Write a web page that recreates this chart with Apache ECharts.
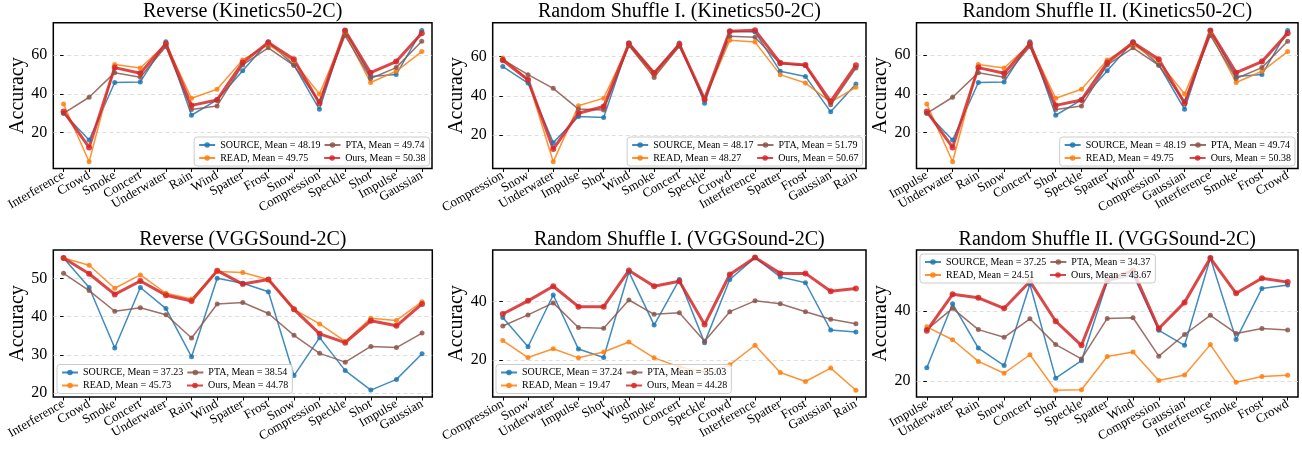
<!DOCTYPE html>
<html><head><meta charset="utf-8">
<script src="https://cdn.jsdelivr.net/npm/echarts@6/dist/echarts.min.js"></script>
<style>html,body{margin:0;padding:0;background:#fff}#c{width:1302px;height:451px}</style>
</head><body><div id="c"></div>
<script>
// ---------------- data ----------------
const methods = ['SOURCE', 'READ', 'PTA', 'Ours'];

const catsReverse  = ['Interference','Crowd','Smoke','Concert','Underwater','Rain','Wind','Spatter','Frost','Snow','Compression','Speckle','Shot','Impulse','Gaussian'];
const catsShuffle1 = ['Compression','Snow','Underwater','Impulse','Shot','Wind','Smoke','Concert','Speckle','Crowd','Interference','Spatter','Frost','Gaussian','Rain'];
const catsShuffle2 = ['Impulse','Underwater','Rain','Snow','Concert','Shot','Speckle','Spatter','Wind','Compression','Gaussian','Interference','Smoke','Frost','Crowd'];

const titles = ['Reverse (Kinetics50-2C)', 'Random Shuffle I. (Kinetics50-2C)', 'Random Shuffle II. (Kinetics50-2C)',
                'Reverse (VGGSound-2C)', 'Random Shuffle I. (VGGSound-2C)', 'Random Shuffle II. (VGGSound-2C)'];

const ticksKin    = [20, 40, 60];
const ticksVggRev = [20, 30, 40, 50];
const ticksVgg    = [20, 40];

// Kinetics50-2C, Reverse (the Random Shuffle II. panel shows the same values)
const kinRevSource = [30.0,16.2,45.9,46.2,66.9,29.0,36.9,52.0,66.9,55.0,32.1,72.8,49.0,50.0,72.8];
const kinRevRead   = [34.8, 5.0,55.2,53.4,65.7,37.8,42.4,57.6,65.5,56.7,40.0,71.4,45.9,51.7,61.9];
const kinRevPta    = [30.0,38.3,51.0,48.6,64.5,32.0,33.8,55.0,63.8,54.8,36.0,70.2,48.0,53.6,67.2];
const kinRevOurs   = [31.0,12.4,53.6,50.7,65.9,34.1,36.9,56.2,66.6,57.9,35.2,72.8,51.0,56.7,71.4];
const meansKinRev  = [48.19, 49.75, 49.74, 50.38];

// Kinetics50-2C, Random Shuffle I.
const kinRs1Source = [54.9,46.5,16.1,29.4,28.9,67.0,51.3,67.0,36.2,73.0,72.6,52.5,49.9,31.8,46.0];
const kinRs1Read   = [59.3,48.2, 6.3,34.9,38.8,66.0,50.3,66.2,38.0,68.4,67.4,50.8,46.5,36.8,44.3];
const kinRs1Pta    = [58.5,50.8,43.8,33.2,32.8,65.6,49.4,65.3,38.0,70.4,69.9,56.4,55.4,35.4,54.2];
const kinRs1Ours   = [58.1,48.2,12.8,31.1,34.5,66.7,51.6,66.2,38.3,73.0,73.5,56.8,55.7,37.1,55.6];
const meansKinRs1  = [48.17, 48.27, 51.79, 50.67];

// Kinetics50-2C, Random Shuffle II.
const kinRs2Source = [30.0,16.2,45.9,46.2,66.9,29.0,36.9,52.0,66.9,55.0,32.1,72.8,49.0,50.0,72.8];
const kinRs2Read   = [34.8, 5.0,55.2,53.4,65.7,37.8,42.4,57.6,65.5,56.7,40.0,71.4,45.9,51.7,61.9];
const kinRs2Pta    = [30.0,38.3,51.0,48.6,64.5,32.0,33.8,55.0,63.8,54.8,36.0,70.2,48.0,53.6,67.2];
const kinRs2Ours   = [31.0,12.4,53.6,50.7,65.9,34.1,36.9,56.2,66.6,57.9,35.2,72.8,51.0,56.7,71.4];
const meansKinRs2  = [48.19, 49.75, 49.74, 50.38];

// VGGSound-2C, Reverse
const vggRevSource = [55.3,47.6,31.8,47.6,42.1,29.5,50.0,48.7,46.5,24.6,34.5,25.9,20.8,23.6,30.3];
const vggRevRead   = [55.3,53.4,47.4,50.9,46.1,44.6,51.8,51.5,49.7,41.9,38.1,33.5,39.6,39.0,43.9];
const vggRevPta    = [51.3,46.8,41.4,42.3,40.5,34.4,43.3,43.7,40.8,35.1,30.4,28.1,32.2,31.9,35.7];
const vggRevOurs   = [55.3,51.2,45.8,49.3,45.6,44.1,52.0,48.5,49.7,41.9,35.5,33.2,38.9,37.6,43.3];
const meansVggRev  = [37.23, 45.73, 38.54, 44.78];

// VGGSound-2C, Random Shuffle I.
const vggRs1Source = [34.5,24.5,42.2,23.7,20.8,50.1,31.9,47.5,25.9,47.5,55.0,48.4,46.4,30.2,29.5];
const vggRs1Read   = [26.6,20.8,23.8,20.7,22.7,26.1,20.7,17.6,15.9,18.3,25.0,15.7,12.6,17.2, 9.6];
const vggRs1Pta    = [31.6,35.4,39.5,31.1,30.8,40.5,35.6,36.1,26.4,36.5,40.2,39.2,36.5,33.9,32.4];
const vggRs1Ours   = [35.7,40.2,45.2,38.2,38.2,50.6,45.2,46.9,32.1,49.2,55.0,49.6,49.6,43.5,44.4];
const meansVggRs1  = [37.24, 19.47, 35.03, 44.28];

// VGGSound-2C, Random Shuffle II.
const vggRs2Source = [23.8,42.1,29.4,24.4,47.7,20.8,25.8,48.5,50.5,34.5,30.2,55.2,31.9,46.5,47.5];
const vggRs2Read   = [35.5,31.8,25.6,22.2,27.5,17.3,17.5,27.0,28.3,20.1,21.7,30.4,19.6,21.3,21.6];
const vggRs2Pta    = [34.7,40.8,34.7,32.5,37.8,30.4,26.3,37.9,38.1,27.1,33.3,38.8,33.6,35.0,34.6];
const vggRs2Ours   = [34.4,44.8,43.8,40.8,48.5,37.1,30.2,48.9,51.6,35.0,42.5,55.2,45.1,49.4,48.3];
const meansVggRs2  = [37.25, 24.51, 34.37, 43.67];

// ---------------- layout / style ----------------
const FONT = 'Liberation Serif';
const colors = ['#1f77b4', '#ff7f0e', '#8c564b', '#d62728'];
const W = 1302, H = 451;
const XPAD = 0.4; // x-axis margin, in category units

const panels = [
  {cats: catsReverse,  ymin: 1.5,  ymax: 76.8, ticks: ticksKin,    data: [kinRevSource, kinRevRead, kinRevPta, kinRevOurs], means: meansKinRev,
   grid: {left: 53.3, top: 22.7, width: 378.7, height: 145.8}, leg: {right: W - 429.5, bottom: H - 166}},
  {cats: catsShuffle1, ymin: 2.9,  ymax: 77.3, ticks: ticksKin,    data: [kinRs1Source, kinRs1Read, kinRs1Pta, kinRs1Ours], means: meansKinRs1,
   grid: {left: 492.7, top: 22.7, width: 373.3, height: 145.8}, leg: {right: W - 862.5, bottom: H - 166}},
  {cats: catsShuffle2, ymin: 1.5,  ymax: 76.8, ticks: ticksKin,    data: [kinRs2Source, kinRs2Read, kinRs2Pta, kinRs2Ours], means: meansKinRs2,
   grid: {left: 916.5, top: 22.7, width: 381.5, height: 145.8}, leg: {right: W - 1295, bottom: H - 166}},
  {cats: catsReverse,  ymin: 19.0, ymax: 57.4, ticks: ticksVggRev, data: [vggRevSource, vggRevRead, vggRevPta, vggRevOurs], means: meansVggRev,
   grid: {left: 53.3, top: 250, width: 379, height: 147}, leg: {left: 57, bottom: H - 393.5}},
  {cats: catsShuffle1, ymin: 7.3,  ymax: 57.6, ticks: ticksVgg,    data: [vggRs1Source, vggRs1Read, vggRs1Pta, vggRs1Ours], means: meansVggRs1,
   grid: {left: 492.7, top: 250, width: 373.3, height: 147}, leg: {left: 496, bottom: H - 393.5}},
  {cats: catsShuffle2, ymin: 15.4, ymax: 57.5, ticks: ticksVgg,    data: [vggRs2Source, vggRs2Read, vggRs2Pta, vggRs2Ours], means: meansVggRs2,
   grid: {left: 916.5, top: 250, width: 381.5, height: 147}, leg: {left: 920, top: 254}}
];

const N = panels.length;
const idx = catsReverse.map((_, i) => i);
const option = {animation: false, textStyle: {fontFamily: FONT}, grid: [], xAxis: [], yAxis: [], series: [], title: [], legend: []};

panels.forEach((p, i) => {
  option.grid.push(Object.assign({show: true, borderColor: '#000', borderWidth: 1.5, backgroundColor: 'transparent',
    containLabel: false, outerBoundsMode: 'none'}, p.grid));
  option.title.push({
    text: titles[i], left: p.grid.left + p.grid.width / 2, top: p.grid.top - 20.5, textAlign: 'center', padding: 0,
    textStyle: {fontFamily: FONT, fontSize: 20, fontWeight: 'normal', color: '#000'}
  });
  option.xAxis.push({
    type: 'value', gridIndex: i, min: -XPAD, max: p.cats.length - 1 + XPAD,
    axisLine: {show: false}, splitLine: {show: false}, axisLabel: {show: false},
    axisTick: {show: true, customValues: idx, length: 3.5, lineStyle: {color: '#000', width: 1}}
  });
  option.yAxis.push({
    type: 'value', gridIndex: i, min: p.ymin, max: p.ymax,
    name: 'Accuracy', nameLocation: 'middle', nameGap: 26,
    nameTextStyle: {fontSize: 20, fontFamily: FONT, color: '#000'},
    axisLine: {show: false},
    axisTick: {show: true, customValues: p.ticks, length: 3.5, lineStyle: {color: '#000', width: 1}},
    axisLabel: {customValues: p.ticks, fontSize: 16, fontFamily: FONT, color: '#000', margin: 6,
      showMinLabel: true, showMaxLabel: true},
    splitLine: {show: true, lineStyle: {color: '#d6d6d6', type: [4, 3], width: 0.8}}
  });
  const names = methods.map((m, k) => m + ', Mean = ' + p.means[k].toFixed(2));
  methods.forEach((m, k) => {
    option.series.push({
      type: 'line', name: names[k], xAxisIndex: i, yAxisIndex: i,
      data: p.data[k].map((v, j) => [j, v]),
      symbol: 'circle', symbolSize: k === 3 ? 6 : 5,
      lineStyle: {color: colors[k], width: k === 3 ? 3 : 1.5, opacity: 0.85},
      itemStyle: {color: colors[k], opacity: 0.85},
      emphasis: {disabled: true}, silent: true
    });
  });
  option.legend.push(Object.assign({
    orient: 'horizontal', align: 'left', width: 230, itemGap: 3, itemWidth: 16, itemHeight: 7,
    padding: [3, 4, 3, 4], backgroundColor: 'rgba(255,255,255,0.8)', borderColor: '#cccccc',
    borderWidth: 1, borderRadius: 3, selectedMode: false, z: 10,
    textStyle: {fontFamily: FONT, fontSize: 10, lineHeight: 10, color: '#000'},
    data: [{name: names[0], textStyle: {width: 100}}, {name: names[2]},
           {name: names[1], textStyle: {width: 100}}, {name: names[3]}]
  }, p.leg));
});

// Category label axes: an invisible grid whose band centres coincide with the value positions above.
panels.forEach((p, i) => {
  const n = p.cats.length;
  const band = p.grid.width / (n - 1 + 2 * XPAD);
  option.grid.push({show: false, left: p.grid.left - (0.5 - XPAD) * band, top: p.grid.top,
    width: band * n, height: p.grid.height, containLabel: false, outerBoundsMode: 'none'});
  option.xAxis.push({
    type: 'category', gridIndex: N + i, data: p.cats, boundaryGap: true,
    axisLine: {show: false}, axisTick: {show: false}, splitLine: {show: false},
    axisLabel: {interval: 0, rotate: 30, fontSize: 13, fontFamily: FONT, color: '#000', margin: 6}
  });
  option.yAxis.push({type: 'value', gridIndex: N + i, show: false, min: 0, max: 1, splitLine: {show: false}});
});

const chart = echarts.init(document.getElementById('c'), null, {renderer: 'canvas'});
chart.setOption(option);
</script>
</body></html>
